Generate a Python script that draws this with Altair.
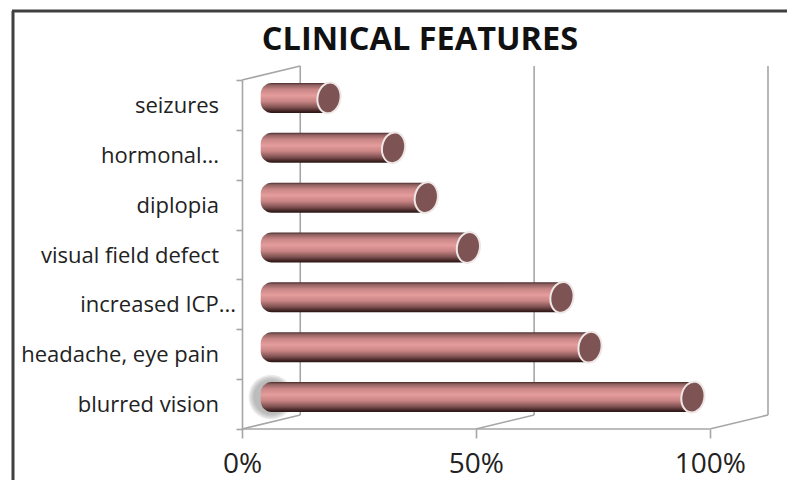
import altair as alt
import pandas as pd

categories = ["seizures", "hormonal...", "diplopia", "visual field defect",
              "increased ICP...", "headache, eye pain", "blurred vision"]
values = [0.186, 0.324, 0.394, 0.484, 0.684, 0.744, 0.964]
bar_start = 0.04
wall_ticks = [0, 0.5, 1]
depth = 0.1245
W, H = 526, 349
FONT = "Open Sans"
GRAY = "#a6a6a6"
TITLE = "CLINICAL FEATURES"

bars = pd.DataFrame({"cat": categories, "v": values, "s": [bar_start] * len(values)})
walls = pd.DataFrame({"t": wall_ticks, "b": [t + depth for t in wall_ticks]})
left_wall = walls[walls.t == 0]

xs = alt.Scale(domain=[0, 1 + depth], range=[0, W], nice=False, zero=False)
ys = alt.Scale(domain=categories, paddingInner=0, paddingOuter=0)
X = alt.X("v:Q", scale=xs, title=None,
          axis=alt.Axis(values=wall_ticks, format=".0%", domain=False, grid=False, labelFlush=False,
                        tickColor=GRAY, tickSize=9, tickWidth=1.6, labelFont=FONT,
                        labelFontSize=28, labelColor="#222222", labelPadding=12))
Y = alt.Y("cat:N", scale=ys, sort=categories, title=None,
          axis=alt.Axis(labels=False, tickBand="extent", domainColor=GRAY, domainWidth=1.6,
                        tickColor=GRAY, tickSize=6, tickWidth=1.6, grid=False))

gradient = alt.LinearGradient(
    gradient="linear", x1=0, x2=0, y1=0, y2=1,
    stops=[alt.GradientStop(offset=0, color="#4a2c2c"),
           alt.GradientStop(offset=0.07, color="#8f6060"),
           alt.GradientStop(offset=0.22, color="#c98686"),
           alt.GradientStop(offset=0.42, color="#e59c9c"),
           alt.GradientStop(offset=0.62, color="#c88484"),
           alt.GradientStop(offset=0.82, color="#7d5050"),
           alt.GradientStop(offset=0.95, color="#3c2020"),
           alt.GradientStop(offset=1, color="#2a1515")])

frame_left = alt.Chart(pd.DataFrame({"a": [0]})).mark_rule(color="#404040", strokeWidth=3).encode(
    x=alt.value(-229), y=alt.value(-69), y2=alt.value(420))
frame_top = alt.Chart(pd.DataFrame({"a": [0]})).mark_rule(color="#404040", strokeWidth=3).encode(
    x=alt.value(-230), x2=alt.value(553), y=alt.value(-69))

base_axes = alt.Chart(bars).mark_point(opacity=0).encode(x=X, y=Y)

back = alt.Chart(walls).mark_rule(color=GRAY, strokeWidth=1.6).encode(
    x=alt.X("b:Q", scale=xs), y=alt.value(-14), y2=alt.value(H - 14))
floor_slant = alt.Chart(walls).mark_rule(color=GRAY, strokeWidth=1.6).encode(
    x=alt.X("t:Q", scale=xs), x2="b:Q", y=alt.value(H), y2=alt.value(H - 14))
top_slant = alt.Chart(left_wall).mark_rule(color=GRAY, strokeWidth=1.6).encode(
    x=alt.X("t:Q", scale=xs), x2="b:Q", y=alt.value(0), y2=alt.value(-14))
floor = alt.Chart(pd.DataFrame({"t": [0], "e": [1]})).mark_rule(color=GRAY, strokeWidth=1.6).encode(
    x=alt.X("t:Q", scale=xs), x2="e:Q", y=alt.value(H))

glow_df = pd.DataFrame({"cat": ["blurred vision"], "v": [0.062]})
glows = [alt.Chart(glow_df).mark_point(shape="circle", filled=True, color="#666666", opacity=0.13,
                                       yOffset=-7, size=s, strokeOpacity=0).encode(
    x=alt.X("v:Q", scale=xs), y=alt.Y("cat:N", scale=ys, sort=categories))
    for s in (2000, 1750, 1500, 1250)]

bar = alt.Chart(bars).mark_bar(height=30, yOffset=-7, color=gradient,
                               cornerRadiusTopLeft=11, cornerRadiusBottomLeft=11).encode(
    x=alt.X("s:Q", scale=xs), x2="v:Q", y=alt.Y("cat:N", scale=ys, sort=categories))

cap = alt.Chart(bars).mark_point(
    shape="M -0.74,0 A 0.74,1 0 1,1 0.74,0 A 0.74,1 0 1,1 -0.74,0 Z",
    filled=True, fill="#7d5353", stroke="#efe6e6", strokeWidth=2, opacity=1,
    size=961, angle=10, yOffset=-7).encode(
    x=alt.X("v:Q", scale=xs), y=alt.Y("cat:N", scale=ys, sort=categories))

labels = alt.Chart(bars).transform_filter(alt.datum.cat != "increased ICP...").mark_text(
    font=FONT, fontSize=22, align="right", color="#222222", dy=1).encode(
    x=alt.value(-23), y=alt.Y("cat:N", scale=ys, sort=categories), text="cat:N")
label_long = alt.Chart(bars).transform_filter(alt.datum.cat == "increased ICP...").mark_text(
    font=FONT, fontSize=22, align="right", color="#222222", dy=1).encode(
    x=alt.value(-6), y=alt.Y("cat:N", scale=ys, sort=categories), text="cat:N")

title = alt.Chart(pd.DataFrame({"t": [TITLE]})).mark_text(
    font=FONT, fontSize=32.5, fontWeight="bold", color="#111111", align="center",
    baseline="alphabetic").encode(x=alt.value(178), y=alt.value(-30), text="t:N")

chart = alt.layer(frame_left, frame_top, back, floor_slant, top_slant, floor, base_axes,
                  *glows, bar, cap, labels, label_long, title).properties(
    width=W, height=H,
    padding={"left": 234, "top": 72, "right": 19, "bottom": 51},
    autosize=alt.AutoSizeParams(type="none"),
    background="white",
).configure_view(stroke=None)

chart.save("out.html", embed_options={"renderer": "svg", "actions": False})
